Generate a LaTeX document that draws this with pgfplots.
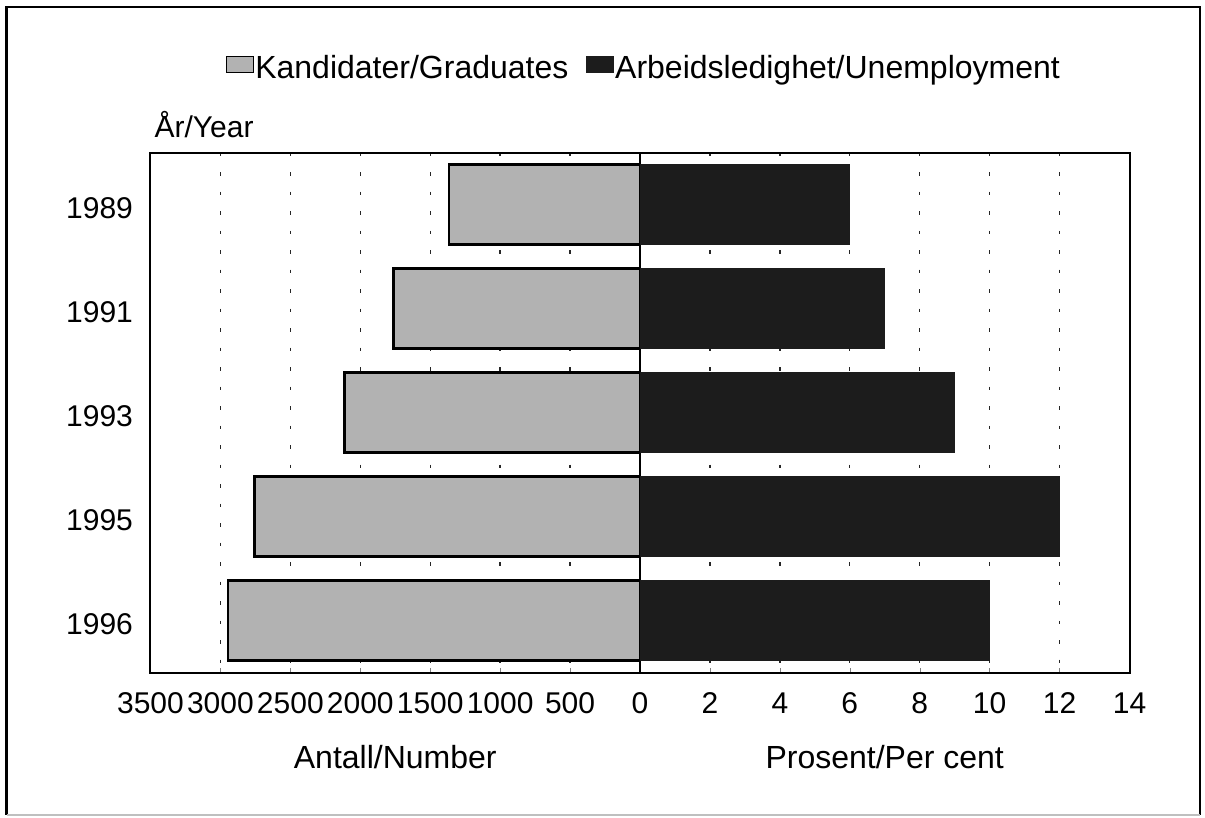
\documentclass[border=0pt]{standalone}
\usepackage{fontspec}
\setmainfont{Liberation Sans}
\usepackage{pgfplots}
\pgfplotsset{compat=1.18}
\definecolor{barlight}{RGB}{178,178,178}
\definecolor{bardark}{RGB}{28,28,28}
\pgfplotsset{
  common/.style={
    scale only axis, width=244.75pt, height=260pt,
    anchor=south west,
    ymin=0.5, ymax=5.5, y dir=reverse,
    xbar, bar width=0.77,
    axis line style={line width=1pt},
    xtick pos=left, tick align=inside, major tick length=2pt,
    xmajorgrids, grid style={black!85, line width=0.65pt, dash pattern=on 1.75pt off 8pt},
    tick label style={font=\fontsize{15}{18}\selectfont},
    xticklabel style={anchor=base, yshift=-20.25pt},
    every axis x label/.style={at={(axis description cs:0.5,0)}, anchor=base, yshift=-47.75pt, font=\fontsize{16}{19}\selectfont},
    /pgf/number format/1000 sep={},
    /pgf/number format/assume math mode=true,
  }
}
\begin{document}
\begin{tikzpicture}[x=1pt,y=1pt]
\useasboundingbox (0,0) rectangle (602.5,409);
\draw[line width=1.2pt] (3.25,1.5) -- (3.25,405.5) -- (600,405.5) -- (600,1.5);
\draw[black!25, line width=0.8pt] (3.25,1.5) -- (600,1.5);

\begin{axis}[common, at={(75.25pt,72.75pt)},
  xmin=0, xmax=3500, x dir=reverse, xtick={500,1000,...,3500},
  ytick={1,2,3,4,5}, yticklabels={1989,1991,1993,1995,1996},
  ytick style={draw=none}, yticklabel style={xshift=-5.25pt, yshift=-2pt},
  xlabel={Antall/Number}, ylabel={År/Year},
  every axis y label/.style={at={(axis description cs:0,1)}, anchor=base west, yshift=7.75pt, xshift=-1.5pt, font=\fontsize{15}{18}\selectfont}]
\addplot[fill=barlight, draw=black, line width=1.4pt] coordinates {(1365,1) (1760,2) (2115,3) (2757,4) (2946,5)};
\end{axis}

\begin{axis}[common, at={(320pt,72.75pt)},
  xmin=0, xmax=14, xtick={0,2,...,14}, ytick=\empty,
  xlabel={Prosent/Per cent},
  legend image code/.code={\draw[#1] (0pt,-2.25pt) rectangle (13.5pt,5.75pt);},
  legend style={at={(0,1)}, anchor=center, xshift=1.75pt, yshift=42.25pt, draw=none, fill=none,
    legend columns=2, font=\fontsize{16}{19}\selectfont, nodes={inner sep=0.75pt},
    /tikz/every even column/.append style={column sep=8pt}}]
\addlegendimage{fill=barlight, draw=black, line width=0.6pt}
\addplot[fill=bardark, draw=bardark] coordinates {(6,1) (7,2) (9,3) (12,4) (10,5)};
\legend{Kandidater/Graduates, Arbeidsledighet/Unemployment}
\end{axis}
\end{tikzpicture}
\end{document}
